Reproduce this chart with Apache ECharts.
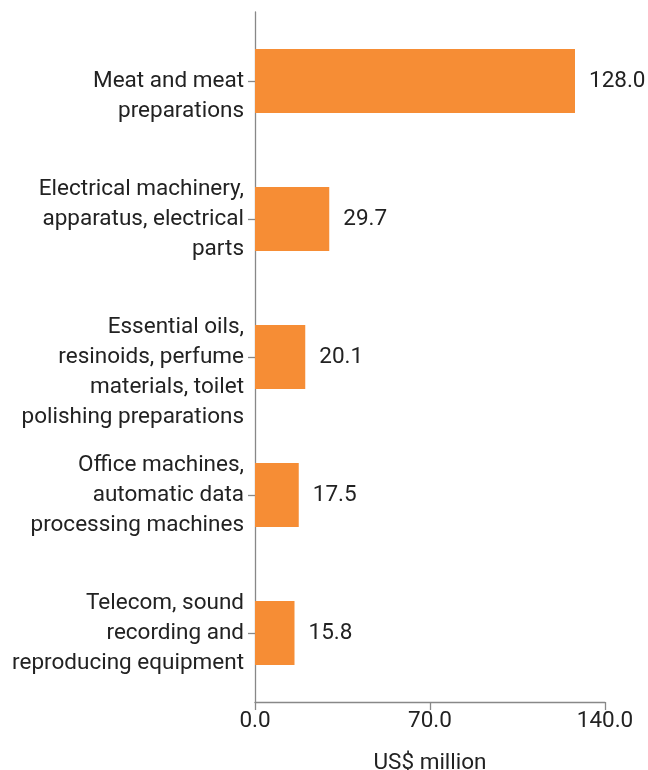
<!DOCTYPE html>
<html>
<head>
<meta charset="utf-8">
<script src="https://cdn.jsdelivr.net/npm/echarts@6/dist/echarts.min.js"></script>
<style>
html,body{margin:0;padding:0;background:#fff;}
#chart{width:648px;height:770px;}
</style>
</head>
<body>
<div id="chart"></div>
<script>
const categories = [
  "\nMeat and meat\npreparations",
  "Electrical machinery,\napparatus, electrical\nparts",
  "\nEssential oils,\nresinoids, perfume\nmaterials, toilet\npolishing preparations",
  "Office machines,\nautomatic data\nprocessing machines",
  "Telecom, sound\nrecording and\nreproducing equipment"
];
const values = [128.0, 29.7, 20.1, 17.5, 15.8];
const xTicks = [0, 70, 140];

const chart = echarts.init(document.getElementById('chart'));
const font = 'Roboto';
const fs = 22.5;
chart.setOption({
  animation: false,
  grid: {left: 255, right: 43, top: 12, bottom: 68, outerBoundsMode: 'none', containLabel: false},
  xAxis: {
    type: 'value',
    min: xTicks[0],
    max: xTicks[xTicks.length - 1],
    interval: xTicks[1] - xTicks[0],
    name: 'US$ million',
    nameLocation: 'middle',
    nameGap: 50,
    nameTextStyle: {fontFamily: font, fontSize: fs, color: '#222'},
    axisLine: {show: true, lineStyle: {color: '#888', width: 1.3}},
    axisTick: {show: true, length: 8, lineStyle: {color: '#888', width: 1.3}},
    splitLine: {show: false},
    axisLabel: {
      fontFamily: font, fontSize: fs, color: '#222', margin: 8,
      formatter: v => v.toFixed(1)
    }
  },
  yAxis: {
    type: 'category',
    data: categories,
    inverse: true,
    axisLine: {show: true, lineStyle: {color: '#888', width: 1.3}},
    axisTick: {show: true, alignWithLabel: true, length: 7, lineStyle: {color: '#888', width: 1.3}},
    axisLabel: {
      fontFamily: font, fontSize: fs, color: '#222', margin: 11,
      lineHeight: 30, align: 'right'
    }
  },
  series: [{
    type: 'bar',
    data: values,
    barWidth: '46.5%',
    itemStyle: {color: '#F68D35'},
    label: {
      show: true, position: 'right', distance: 14,
      fontFamily: font, fontSize: fs, color: '#222',
      formatter: p => p.value.toFixed(1)
    }
  }]
});
</script>
</body>
</html>
